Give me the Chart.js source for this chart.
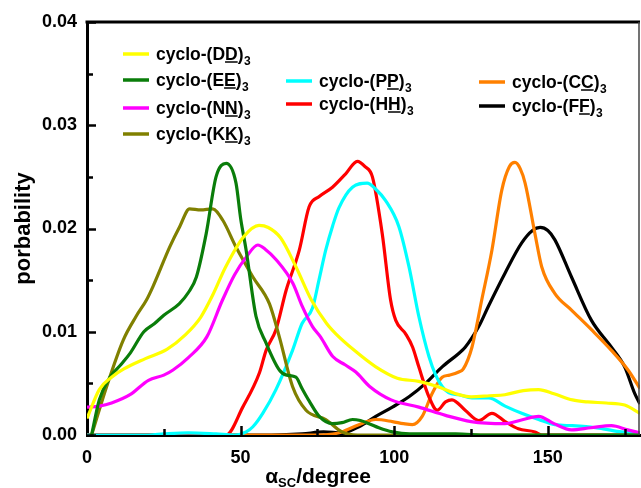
<!DOCTYPE html>
<html>
<head>
<meta charset="utf-8">
<script src="https://cdn.jsdelivr.net/npm/chart.js@4.4.1/dist/chart.umd.min.js"></script>
<style>
html,body{margin:0;padding:0;background:#fff;}
#wrap{width:641px;height:488px;position:relative;}
</style>
</head>
<body>
<div id="wrap"><canvas id="c" width="641" height="488"></canvas></div>
<script>
// ---------- data ----------
const xTickValues = [0, 50, 100, 150];
const yTickValues = [0.00, 0.01, 0.02, 0.03, 0.04];
const residues = ['D', 'E', 'N', 'K', 'P', 'H', 'C', 'F'];

const ddAngle = [0, 4, 8, 12, 19, 26, 32, 37, 41, 45, 51, 56, 59, 63, 68, 73, 78, 81, 87, 94, 101, 108, 114, 120, 125, 131, 136, 142, 147, 152, 158, 163, 169, 175, 180];
const ddProb  = [0.0016, 0.0044, 0.0056, 0.0064, 0.0074, 0.0083, 0.0097, 0.0114, 0.0136, 0.0162, 0.0192, 0.0203, 0.0201, 0.0191, 0.0163, 0.0131, 0.0108, 0.0098, 0.0082, 0.0066, 0.0055, 0.0052, 0.0047, 0.0040, 0.0037, 0.0038, 0.0039, 0.0043, 0.0044, 0.0040, 0.0034, 0.0032, 0.0031, 0.0029, 0.0021];

const eeAngle = [1.5, 4, 7.5, 11, 14, 18.5, 22, 25, 30, 33, 35.6, 38.8, 42, 45.3, 48.5, 50, 51.8, 55, 58.3, 62.6, 65, 68, 70, 72.3, 75.6, 79.9, 83, 86.4, 89, 91.8, 95, 99.4, 105, 120, 130, 180];
const eeProb  = [0, 0.0034, 0.0056, 0.0068, 0.0079, 0.0100, 0.0108, 0.0116, 0.0127, 0.0138, 0.0153, 0.0195, 0.0250, 0.0263, 0.0244, 0.0210, 0.0179, 0.0115, 0.0089, 0.0063, 0.0058, 0.0056, 0.0045, 0.0033, 0.0018, 0.0011, 0.0012, 0.0015, 0.0014, 0.0011, 0.0007, 0.0003, 0.0001, 0.0001, 0, 0];

const nnAngle = [0, 4, 8, 14, 20, 25, 28, 33, 39, 44, 48, 52, 55.6, 58, 61.5, 67, 70, 73.4, 76, 80, 84, 87.5, 92, 99, 108, 116.7, 125, 136, 142, 147, 152, 157.7, 164, 170.7, 176, 180];
const nnProb  = [0.0027, 0.0028, 0.0031, 0.0039, 0.0053, 0.0058, 0.0063, 0.0075, 0.0095, 0.0130, 0.0155, 0.0173, 0.0184, 0.0180, 0.0170, 0.0147, 0.0125, 0.0105, 0.0095, 0.0076, 0.0068, 0.0061, 0.0047, 0.0034, 0.0027, 0.0019, 0.0013, 0.0011, 0.0015, 0.0018, 0.0011, 0.0005, 0.0007, 0.0009, 0.0005, 0.0002];

const kkAngle = [1.5, 6.4, 11.8, 16, 19.4, 21.5, 26.9, 30.2, 33.4, 37, 40.9, 44.2, 48.5, 54, 59.4, 62.6, 66.9, 71.3, 77.7, 83, 88, 180];
const kkProb  = [0, 0.0047, 0.0092, 0.0115, 0.0131, 0.0144, 0.0182, 0.0202, 0.0219, 0.0218, 0.0219, 0.0208, 0.0182, 0.0153, 0.0127, 0.0095, 0.0047, 0.0024, 0.0015, 0.0003, 0, 0];

const ppAngle = [0, 20, 25, 33, 42, 48, 51.8, 54, 57.2, 61.5, 66.9, 70, 73.4, 75.5, 77.7, 80, 82, 86.4, 91.2, 94, 97.2, 101.5, 104.8, 108, 111.3, 113.5, 115.6, 117.7, 121, 125.3, 130.7, 136.1, 141.5, 147, 152.3, 158, 163.2, 168, 174, 180];
const ppProb  = [0, 0, 0.0001, 0.0002, 0.0001, 0, 0.0003, 0.0008, 0.0021, 0.0044, 0.0082, 0.0108, 0.0123, 0.0150, 0.0179, 0.0203, 0.0220, 0.0240, 0.0244, 0.0238, 0.0227, 0.0202, 0.0163, 0.0115, 0.0076, 0.0058, 0.0047, 0.0041, 0.0039, 0.0036, 0.0036, 0.0028, 0.0021, 0.0015, 0.0010, 0.0009, 0.0008, 0.0006, 0.0003, 0.0002];

const hhAngle = [0, 44, 45.3, 50.7, 56.1, 58.3, 61.5, 64.8, 69.1, 72.3, 75.6, 79.9, 84.2, 88, 90.5, 92.9, 96.1, 98.8, 100.5, 103.7, 106, 108, 111.3, 114, 116.7, 118.8, 123.1, 127.5, 131.8, 136.1, 140.4, 145.8, 148, 180];
const hhProb  = [0, 0, 0, 0.0027, 0.0060, 0.0082, 0.0102, 0.0140, 0.0179, 0.0221, 0.0231, 0.0240, 0.0253, 0.0265, 0.0260, 0.0250, 0.0195, 0.0131, 0.0111, 0.0098, 0.0085, 0.0066, 0.0037, 0.0024, 0.0032, 0.0034, 0.0024, 0.0014, 0.0021, 0.0013, 0.0006, 0.0003, 0, 0];

const ccAngle = [0, 75, 80, 83, 88.5, 94, 99.4, 103, 105.9, 109.1, 112.3, 115.6, 118, 121, 122.5, 125.3, 128.5, 131.8, 135, 137.5, 139.3, 141, 142.6, 145.8, 148, 152.3, 157.7, 164.2, 170.7, 176.1, 180];
const ccProb  = [0, 0, 0.0001, 0.0003, 0.0010, 0.0015, 0.0013, 0.0011, 0.0010, 0.0018, 0.0040, 0.0056, 0.0058, 0.0061, 0.0064, 0.0085, 0.0131, 0.0179, 0.0237, 0.0260, 0.0264, 0.0258, 0.0244, 0.0195, 0.0163, 0.0137, 0.0121, 0.0102, 0.0082, 0.0063, 0.0045];

const ffAngle = [0, 60, 70, 77, 83, 88.5, 94, 99.4, 104.8, 110.2, 115.6, 121, 123.1, 127.5, 130.7, 136.1, 141.5, 145, 147.5, 150, 152.3, 157.7, 164.2, 170.7, 175, 178.3, 180];
const ffProb  = [0, 0, 0.0001, 0.0003, 0.0002, 0.0008, 0.0018, 0.0027, 0.0037, 0.0050, 0.0066, 0.0079, 0.0085, 0.0105, 0.0125, 0.0157, 0.0186, 0.0198, 0.0201, 0.0198, 0.0189, 0.0153, 0.0111, 0.0085, 0.0066, 0.0040, 0.0030];

// ---------- styling ----------
const FONT = '"Liberation Sans", Arial, Helvetica, sans-serif';
const colors = {
  D: '#ffff00', E: '#0a7d0a', N: '#ff00ff', K: '#808000',
  P: '#00ffff', H: '#ff0000', C: '#ff8000', F: '#000000'
};
const seriesData = {
  D: [ddAngle, ddProb], E: [eeAngle, eeProb], N: [nnAngle, nnProb], K: [kkAngle, kkProb],
  P: [ppAngle, ppProb], H: [hhAngle, hhProb], C: [ccAngle, ccProb], F: [ffAngle, ffProb]
};
function pts(a, p) { return a.map((v, i) => ({x: v, y: p[i]})); }

const datasets = residues.map(r => ({
  label: 'cyclo-(' + r + r + ')3',
  data: pts(seriesData[r][0], seriesData[r][1]),
  borderColor: colors[r],
  backgroundColor: colors[r],
  borderWidth: 3.2,
  pointRadius: 0,
  fill: false,
  tension: 0.4,
  cubicInterpolationMode: 'monotone'
}));

// legend layout (pixel positions of the entries)
const legendLayout = [
  {r: 'D', lx: 123, y: 54}, {r: 'E', lx: 123, y: 80}, {r: 'N', lx: 123, y: 108}, {r: 'K', lx: 123, y: 134},
  {r: 'P', lx: 286, y: 81}, {r: 'H', lx: 286, y: 104},
  {r: 'C', lx: 479, y: 82}, {r: 'F', lx: 479, y: 106}
];

const decorPlugin = {
  id: 'decor',
  afterDatasetsDraw(chart) {
    const {ctx, chartArea: a, scales: {x, y}} = chart;
    ctx.save();
    ctx.strokeStyle = '#000';
    ctx.lineCap = 'butt';
    ctx.lineWidth = 2.5;
    for (let i = 0; i <= 8; i++) {
      const v = i * 0.005;
      const py = Math.round(y.getPixelForValue(v)) + 0.5;
      const len = (i % 2 === 0) ? 9 : 6;
      ctx.beginPath(); ctx.moveTo(a.left, py); ctx.lineTo(a.left + len, py); ctx.stroke();
    }
    for (let v = 25; v <= 175; v += 25) {
      const px = Math.round(x.getPixelForValue(v)) + 0.5;
      const len = (v % 50 === 0) ? 9 : 6;
      ctx.beginPath(); ctx.moveTo(px, a.bottom); ctx.lineTo(px, a.bottom - len); ctx.stroke();
    }
    ctx.lineWidth = 3;
    ctx.beginPath(); ctx.moveTo(a.left - 1.5, a.top); ctx.lineTo(a.right, a.top); ctx.stroke();
    ctx.lineWidth = 1.5;
    ctx.strokeStyle = '#444';
    ctx.beginPath(); ctx.moveTo(a.right - 1, a.top); ctx.lineTo(a.right - 1, a.bottom); ctx.stroke();
    ctx.restore();
  },
  afterDraw(chart) {
    const {ctx} = chart;
    ctx.save();
    ctx.fillStyle = '#000';
    ctx.textBaseline = 'alphabetic';
    const big = 'bold 17.5px ' + FONT;
    const small = 'bold 12px ' + FONT;
    legendLayout.forEach(item => {
      const r = item.r;
      ctx.strokeStyle = colors[r];
      ctx.lineWidth = 3.5;
      ctx.beginPath(); ctx.moveTo(item.lx, item.y); ctx.lineTo(item.lx + 26, item.y); ctx.stroke();
      let tx = item.lx + 33;
      const base = item.y + 6;
      ctx.font = big;
      const pre = 'cyclo-(' + r;
      ctx.fillText(pre, tx, base);
      tx += ctx.measureText(pre).width;
      const w = ctx.measureText(r).width;
      ctx.fillText(r, tx, base);
      ctx.strokeStyle = '#000';
      ctx.lineWidth = 1.5;
      ctx.beginPath(); ctx.moveTo(tx, base + 2); ctx.lineTo(tx + w, base + 2); ctx.stroke();
      tx += w;
      ctx.fillText(')', tx, base);
      tx += ctx.measureText(')').width;
      ctx.font = small;
      ctx.fillText('3', tx + 0.5, base + 5);
    });
    const tFont = 'bold 21px ' + FONT;
    const sFont = 'bold 13px ' + FONT;
    ctx.font = tFont;
    const wA = ctx.measureText('\u03b1').width;
    const wD = ctx.measureText('/degree').width;
    ctx.font = sFont;
    const wS = ctx.measureText('SC').width;
    let sx = 318 - (wA + wS + wD) / 2;
    const by = 483;
    ctx.font = tFont;
    ctx.fillText('\u03b1', sx, by); sx += wA;
    ctx.font = sFont;
    ctx.fillText('SC', sx, by + 4); sx += wS;
    ctx.font = tFont;
    ctx.fillText('/degree', sx, by);
    ctx.restore();
  }
};

new Chart(document.getElementById('c'), {
  type: 'line',
  data: { datasets },
  options: {
    responsive: false,
    devicePixelRatio: 1,
    animation: false,
    layout: { padding: { top: 22, right: 1, left: 0, bottom: 0 } },
    plugins: { legend: { display: false }, tooltip: { enabled: false } },
    scales: {
      x: {
        type: 'linear',
        min: 0, max: 180,
        afterFit(s) { s.height = 53; },
        afterBuildTicks(s) { s.ticks = xTickValues.map(v => ({value: v})); },
        grid: { display: false, drawTicks: false },
        border: { display: true, width: 3, color: '#000' },
        ticks: {
          font: { family: FONT, size: 18, weight: 'bold' },
          color: '#000',
          padding: 12,
          maxRotation: 0,
          callback: v => String(v)
        }
      },
      y: {
        type: 'linear',
        min: 0, max: 0.04,
        afterFit(s) { s.width = 87; },
        afterBuildTicks(s) { s.ticks = yTickValues.map(v => ({value: v})); },
        grid: { display: false, drawTicks: false },
        border: { display: true, width: 3, color: '#000' },
        ticks: {
          font: { family: FONT, size: 18, weight: 'bold' },
          color: '#000',
          padding: 10,
          callback: v => Number(v).toFixed(2)
        },
        title: {
          display: true,
          text: 'porbability',
          font: { family: FONT, size: 22, weight: 'bold' },
          color: '#000',
          padding: { top: 11, bottom: 0 }
        }
      }
    }
  },
  plugins: [decorPlugin]
});
</script>
</body>
</html>
